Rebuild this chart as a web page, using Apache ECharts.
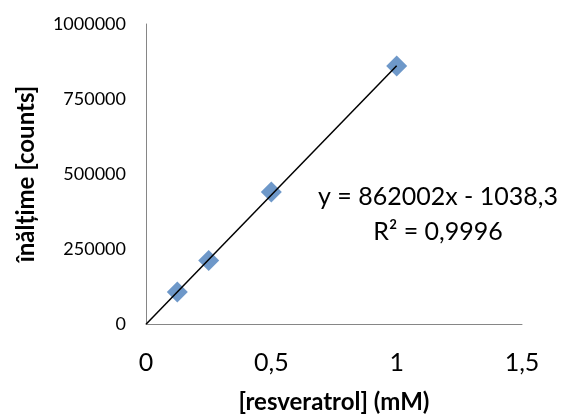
<!DOCTYPE html>
<html>
<head>
<meta charset="utf-8">
<script src="https://cdn.jsdelivr.net/npm/echarts@6/dist/echarts.min.js"></script>
<style>
  html, body { margin: 0; padding: 0; background: #fff; }
  #plot { width: 562px; height: 419px; }
</style>
</head>
<body>
<div id="plot"></div>
<script>
// measured points
var concentrations = [0.125, 0.25, 0.5, 1];
var heights = [107000, 212000, 440000, 860000];

// linear trendline from the label
var trendX = [0, 1];
var trendY = [-1038.3, 860963.7];
var equationLines = ['y = 862002x - 1038,3', 'R² = 0,9996'];

var xTicks = [0, 0.5, 1, 1.5];
var yTicks = [0, 250000, 500000, 750000, 1000000];

var points = concentrations.map((c, i) => [c, heights[i]]);
var trend = trendX.map((x, i) => [x, trendY[i]]);

var myChart = echarts.init(document.getElementById('plot'));

var font = 'Lato';

let option = {
  backgroundColor: '#fff',
  animation: false,
  grid: { left: 146, right: 40, top: 24, bottom: 95, outerBoundsMode: 'none' },
  xAxis: {
    type: 'value',
    min: xTicks[0],
    max: xTicks[xTicks.length - 1],
    interval: 0.5,
    name: '[resveratrol] (mM)',
    nameLocation: 'middle',
    nameGap: 66,
    nameTextStyle: { fontFamily: font, fontWeight: 'bold', fontSize: 24, color: '#000' },
    axisLine: { lineStyle: { color: '#868686', width: 1 } },
    axisTick: { show: false },
    splitLine: { show: false },
    axisLabel: {
      fontFamily: font, fontSize: 25, color: '#000', margin: 26,
      formatter: v => String(v).replace('.', ',')
    }
  },
  yAxis: {
    type: 'value',
    min: yTicks[0],
    max: yTicks[yTicks.length - 1],
    interval: 250000,
    name: 'înălțime [counts]',
    nameLocation: 'middle',
    nameGap: 108,
    nameTextStyle: { fontFamily: font, fontWeight: 'bold', fontSize: 24, color: '#000' },
    axisLine: { show: true, lineStyle: { color: '#868686', width: 1 } },
    axisTick: { show: false },
    splitLine: { show: false },
    axisLabel: {
      fontFamily: font, fontSize: 18, color: '#000', margin: 20,
      formatter: v => String(v)
    }
  },
  graphic: equationLines.map((t, i) => ({
    type: 'text',
    x: 438,
    y: 197 + i * 35,
    style: {
      text: t,
      fontFamily: font,
      fontSize: 25,
      fill: '#000',
      align: 'center',
      verticalAlign: 'middle'
    }
  })),
  series: [{
    name: 'Trendline',
    type: 'line',
    data: trend,
    symbol: 'none',
    lineStyle: { color: '#000', width: 1.5 },
    z: 3
  }, {
    name: 'resveratrol',
    type: 'scatter',
    data: points,
    symbol: 'diamond',
    symbolSize: 21,
    itemStyle: { color: '#4A7EBB' },
    z: 2
  }]
};

myChart.setOption(option);
</script>
</body>
</html>
